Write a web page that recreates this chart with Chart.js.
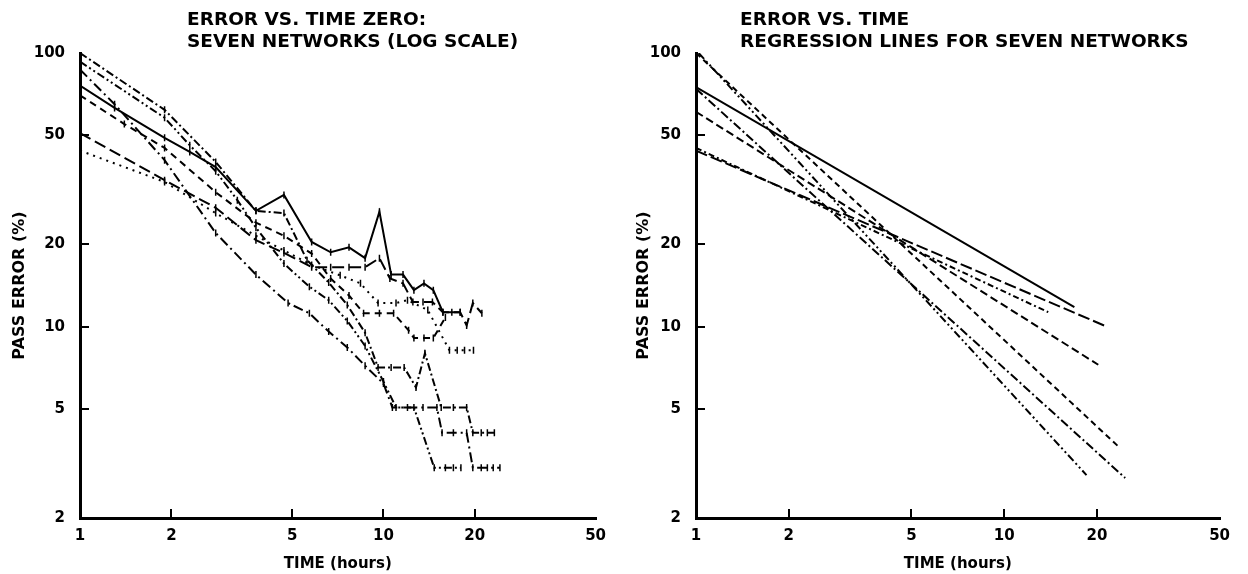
<!DOCTYPE html>
<html>
<head>
<meta charset="utf-8">
<script src="https://cdn.jsdelivr.net/npm/chart.js@4.4.1/dist/chart.umd.min.js"></script>
<style>
  html, body { margin: 0; padding: 0; background: #fff; }
  #wrap { position: relative; width: 1248px; height: 574px; }
  .panel { position: absolute; top: 0; width: 624px; height: 574px; }
</style>
</head>
<body>
<div id="wrap">
  <div class="panel" style="left:0"><canvas id="zeroChart" width="624" height="574"></canvas></div>
  <div class="panel" style="left:624px"><canvas id="regChart" width="624" height="574"></canvas></div>
</div>
<script>
// tick labels
const hourTicks = [1, 2, 5, 10, 20, 50];
const errorTicks = [2, 5, 10, 20, 50, 100];

// left panel: pass error of the seven networks
const netA_hours = [1, 1.3, 1.9, 2.3, 2.8, 3.8, 4.7, 5.8, 6.7, 7.7, 8.7, 9.7, 10.6, 11.6, 12.6, 13.6, 14.6, 15.7, 16.8, 17.9];
const netA_error = [76, 63, 49, 43.5, 38.3, 26.5, 30.3, 20.4, 18.7, 19.5, 17.8, 26.3, 15.5, 15.5, 13.6, 14.4, 13.6, 11.3, 11.3, 11.3];

const netB_hours = [1, 1.9, 2.8, 3.8, 4.7, 5.6, 6.6, 7.6, 8.7, 9.6, 10.6, 11.7, 12.8, 13.7, 15.5, 17, 18.8, 19.7, 21, 22, 23.2];
const netB_error = [100, 62, 40, 26.5, 26, 17.5, 14.5, 12, 9.5, 7.1, 7.1, 7.1, 6, 8, 5.07, 5.07, 5.07, 4.1, 4.1, 4.1, 4.1];

const netC_hours = [1, 1.9, 2.3, 2.8, 3.3, 3.8, 4.7, 5.7, 6.6, 7.6, 8.7, 10, 11, 12.6, 14.7, 16, 17, 18];
const netC_error = [93, 58, 46, 37, 29, 23, 17, 14, 12.5, 10.5, 8.5, 6.3, 5.07, 5.07, 3.05, 3.05, 3.05, 3.05];

const netD_hours = [1, 1.3, 1.9, 2.8, 3.8, 4.85, 5.7, 6.6, 7.6, 8.7, 10, 10.7, 12, 13.5, 15, 15.6, 17, 18.8, 19.7, 21, 22, 23, 24.2];
const netD_error = [87, 65, 40.6, 22, 15.5, 12.2, 11.2, 9.6, 8.4, 7.2, 6.2, 5.07, 5.07, 5.07, 5.07, 4.1, 4.1, 4.1, 3.05, 3.05, 3.05, 3.05, 3.05];

const netE_hours = [1, 1.4, 1.9, 2.8, 3.8, 4.7, 5.8, 6.7, 7.7, 8.6, 9.7, 10.8, 12.1, 12.6, 13.6, 14.6, 16];
const netE_error = [70, 55, 45, 31, 24, 21.5, 18.5, 15, 13, 11.2, 11.2, 11.2, 9.7, 9.1, 9.1, 9.1, 10.8];

const netF_hours = [1, 1.9, 2.8, 3.8, 4.7, 5.8, 6.7, 7.7, 8.7, 9.7, 10.5, 11.6, 12.5, 13.5, 14.5, 15.7, 17.9, 18.8, 19.7, 21.1];
const netF_error = [51, 34.3, 27.2, 20.7, 18.6, 16.5, 16.5, 16.5, 16.5, 17.8, 15, 14.4, 12.3, 12.3, 12.3, 11.3, 11.3, 10.1, 12.2, 11.2];

const netG_hours = [1, 1.9, 2.8, 3.8, 4.7, 5.8, 7.2, 8.4, 9.6, 11, 12, 14, 16.5, 17.5, 18.5, 19.8];
const netG_error = [44, 33.8, 26, 21.5, 19, 16.8, 15.4, 14.4, 12.2, 12.2, 12.5, 11.5, 8.2, 8.2, 8.2, 8.2];

// right panel: regression line end points
const regA_hours = [1, 16.9];   const regA_error = [75, 11.8];
const regB_hours = [1.02, 18.5]; const regB_error = [100, 2.87];
const regC_hours = [1, 23.6];   const regC_error = [100, 3.63];
const regD_hours = [1, 20.2];   const regD_error = [61, 7.26];
const regE_hours = [1, 24.7];   const regE_error = [74, 2.8];
const regF_hours = [1, 13.9];   const regF_error = [45, 11.3];
const regG_hours = [1, 21.1];   const regG_error = [44, 10.1];

const FONT = '"DejaVu Sans", "Liberation Sans", sans-serif';

function toPoints(hours, errors) {
  return hours.map((h, i) => ({ x: h, y: errors[i] }));
}

// two line title, left aligned as a block above the plot
const blockTitle = {
  id: "blockTitle",
  afterDraw(chart, args, opts) {
    const ctx = chart.ctx;
    ctx.save();
    ctx.fillStyle = "#000";
    ctx.font = "bold 18.5px " + FONT;
    ctx.textAlign = "left";
    ctx.textBaseline = "alphabetic";
    opts.lines.forEach((line, i) => {
      ctx.fillText(line, chart.chartArea.left + opts.offset, 25 + i * 22);
    });
    ctx.restore();
  },
};

function lineSet(hours, errors, dash, withTicks) {
  return {
    data: toPoints(hours, errors),
    borderColor: "#000",
    borderWidth: 2,
    borderDash: dash,
    tension: 0,
    fill: false,
    pointStyle: "line",
    rotation: 90,
    pointRadius: withTicks ? 3.5 : 0,
    pointBorderWidth: 1.5,
    pointBorderColor: "#000",
  };
}

function hideEnds(lo, hi) {
  return (c) => (c.tick && (c.tick.value === lo || c.tick.value === hi)) ? "rgba(0,0,0,0)" : "#000";
}

function makeOptions(yWidth, padRight, titleLines, titleOffset) {
  return {
    responsive: false,
    animation: false,
    layout: { padding: { top: 53, right: padRight, left: 0, bottom: 0 } },
    plugins: {
      legend: { display: false },
      tooltip: { enabled: false },
      blockTitle: { lines: titleLines, offset: titleOffset },
    },
    scales: {
      x: {
        type: "logarithmic",
        min: 1,
        max: 50,
        afterBuildTicks: (s) => { s.ticks = hourTicks.map((v) => ({ value: v })); },
        afterFit: (s) => { s.height = 56; },
        border: { display: true, color: "#000", width: 3 },
        grid: { drawOnChartArea: false, drawTicks: true, tickLength: -9, lineWidth: 2, color: hideEnds(1, 50) },
        ticks: {
          color: "#000",
          padding: 18,
          maxRotation: 0,
          font: { family: FONT, size: 15, weight: "bold" },
          callback: (v) => String(v),
        },
        title: {
          display: true,
          text: "TIME (hours)",
          color: "#000",
          padding: { top: 1, bottom: 1 },
          font: { family: FONT, size: 15, weight: "bold" },
        },
      },
      y: {
        type: "logarithmic",
        min: 2,
        max: 100,
        afterBuildTicks: (s) => { s.ticks = errorTicks.map((v) => ({ value: v })); },
        afterFit: (s) => { s.width = yWidth; },
        border: { display: true, color: "#000", width: 3 },
        grid: { drawOnChartArea: false, drawTicks: true, tickLength: -9, lineWidth: 2, color: hideEnds(2, 100) },
        ticks: {
          color: "#000",
          padding: 24,
          font: { family: FONT, size: 15, weight: "bold" },
          callback: (v) => String(v),
        },
        title: {
          display: true,
          text: "PASS ERROR (%)",
          color: "#000",
          padding: { top: 10, bottom: 0 },
          font: { family: FONT, size: 16, weight: "bold" },
        },
      },
    },
  };
}

new Chart(document.getElementById("zeroChart"), {
  type: "line",
  data: {
    datasets: [
      lineSet(netA_hours, netA_error, [], true),
      lineSet(netB_hours, netB_error, [8, 3, 2, 3], true),
      lineSet(netC_hours, netC_error, [8, 3, 2, 3, 2, 3], true),
      lineSet(netD_hours, netD_error, [10, 4, 2, 4], true),
      lineSet(netE_hours, netE_error, [7, 5], true),
      lineSet(netF_hours, netF_error, [12, 5], true),
      lineSet(netG_hours, netG_error, [2, 5], true),
    ],
  },
  options: makeOptions(80, 12, ["ERROR VS. TIME ZERO:", "SEVEN NETWORKS (LOG SCALE)"], 107),
  plugins: [blockTitle],
});

new Chart(document.getElementById("regChart"), {
  type: "line",
  data: {
    datasets: [
      lineSet(regA_hours, regA_error, [], false),
      lineSet(regB_hours, regB_error, [8, 3, 2, 3, 2, 3], false),
      lineSet(regC_hours, regC_error, [6, 4], false),
      lineSet(regD_hours, regD_error, [8, 4], false),
      lineSet(regE_hours, regE_error, [9, 3, 2, 3], false),
      lineSet(regF_hours, regF_error, [6, 3, 2, 3], false),
      lineSet(regG_hours, regG_error, [12, 4], false),
    ],
  },
  options: makeOptions(72, 20, ["ERROR VS. TIME", "REGRESSION LINES FOR SEVEN NETWORKS"], 44),
  plugins: [blockTitle],
});
</script>
</body>
</html>
